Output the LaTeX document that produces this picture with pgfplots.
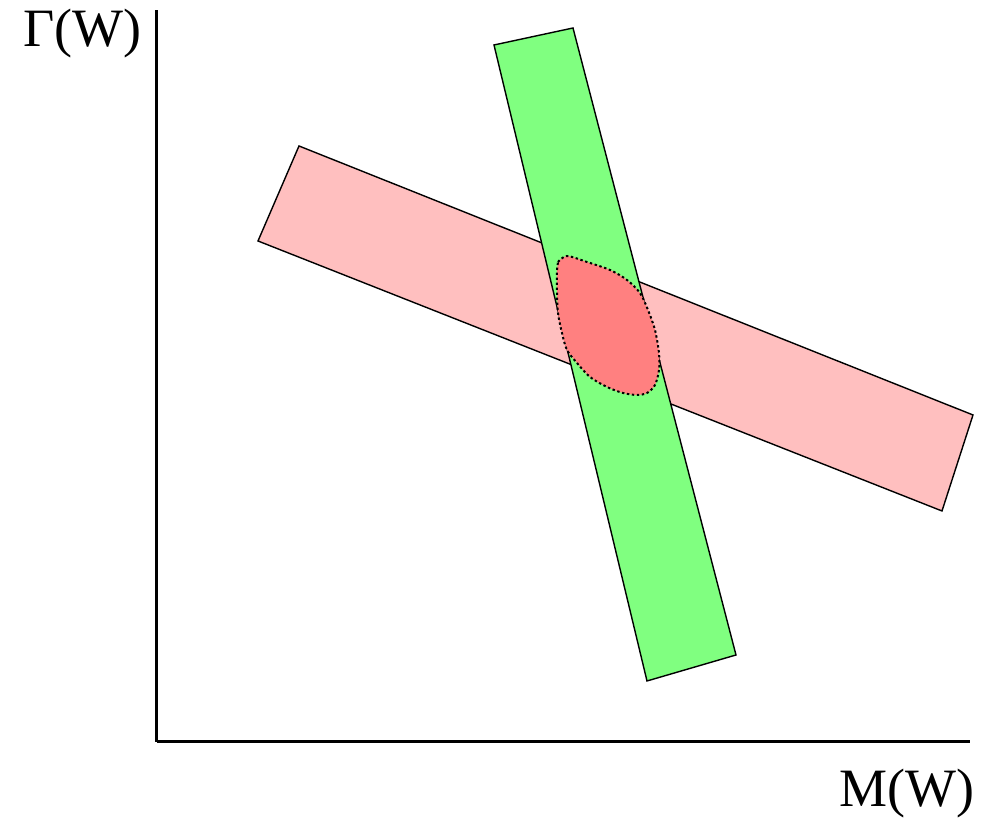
\documentclass[border=0pt]{standalone}
\usepackage{pgfplots}
\pgfplotsset{compat=1.18}
\usepackage{fontspec}
\setmainfont{Liberation Serif}

\definecolor{bandpink}{RGB}{255,191,191}
\definecolor{bandgreen}{RGB}{128,255,128}
\definecolor{overlap}{RGB}{255,128,128}

\begin{document}
\begin{tikzpicture}
\begin{axis}[
    x=0.5pt, y=0.5pt,
    xmin=157, xmax=970,
    ymin=80, ymax=812,
    axis x line=bottom,
    axis y line=left,
    axis line style={-, line width=1.5pt},
    ticks=none,
    clip=false,
    scale only axis
  ]
  % canvas of the picture
  \path (axis cs:0,0) rectangle (axis cs:992,822);

  % pink band
  \addplot[fill=bandpink, draw=black, line width=0.7pt] coordinates {
    (299,676) (973,407) (942,311) (258,581)
  } -- cycle;

  % green band
  \addplot[fill=bandgreen, draw=black, line width=0.7pt] coordinates {
    (494,777) (573,794) (736,167) (647,141)
  } -- cycle;

  % overlap region
  \addplot[fill=overlap, draw=black, line width=1pt,
           dash pattern=on 1.2pt off 1.3pt, smooth, tension=0.5] coordinates {
    (558,560) (567,566) (587,560) (610,552) (627,542) (640,529)
    (648,512) (655,492) (659,469) (659,452) (655,437) (647,429)
    (637,427) (623,429) (607,435) (590,445) (577,459) (567,472)
    (562,489) (558,509) (557,532) (557,552)
  } -- cycle;

  \node[anchor=base west, inner sep=0pt, font=\fontsize{27}{30}\selectfont]
    at (axis cs:23,775) {Γ(W)};
  \node[anchor=base east, inner sep=0pt, font=\fontsize{27}{30}\selectfont]
    at (axis cs:975,15) {M(W)};
\end{axis}
\end{tikzpicture}
\end{document}
